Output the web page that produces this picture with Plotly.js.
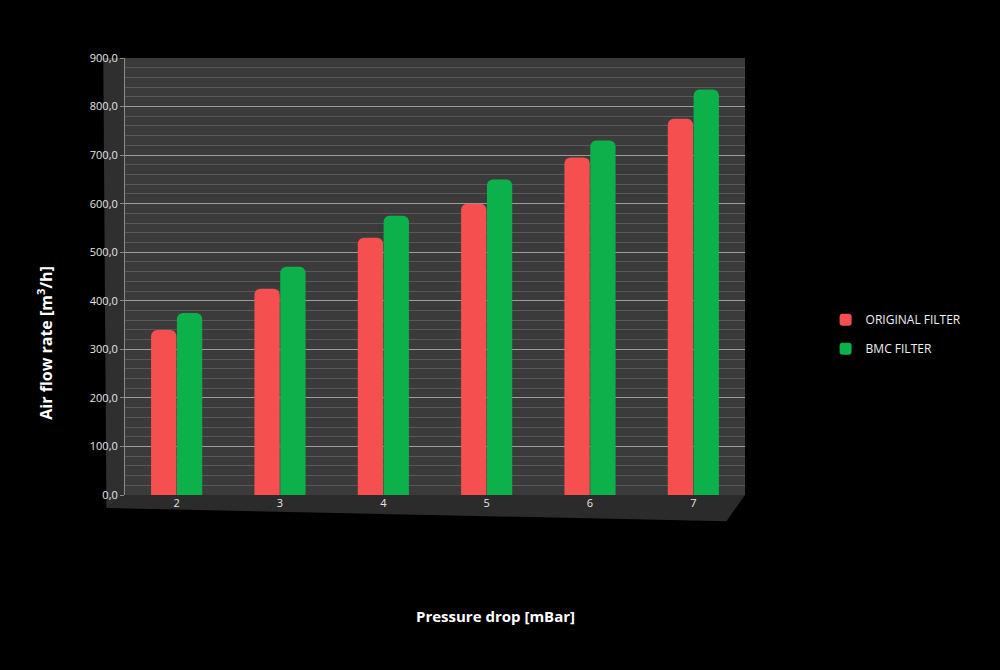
<!DOCTYPE html>
<html>
<head>
<meta charset="utf-8">
<script src="https://cdn.plot.ly/plotly-3.0.1.min.js"></script>
<style>
  html, body { margin: 0; padding: 0; background: #000; }
  #chart { width: 1000px; height: 670px; }
</style>
</head>
<body>
<div id="chart"></div>
<script>
// pressure drop categories (mBar)
let pressure = ["2", "3", "4", "5", "6", "7"];
// air flow rate m3/h
let originalFilter = [340, 425, 530, 600, 695, 775];
let bmcFilter = [375, 470, 575, 650, 730, 835];

let trace1 = {
    x: pressure,
    y: originalFilter,
    type: "bar",
    name: "ORIGINAL FILTER",
    legendgroup: "orig",
    marker: {color: "#f5504f", cornerradius: 6}
};

let trace2 = {
    x: pressure,
    y: bmcFilter,
    type: "bar",
    name: "BMC FILTER",
    legendgroup: "bmc",
    marker: {color: "#0db14b", cornerradius: 6}
};

let layout = {
    width: 1000,
    height: 670,
    paper_bgcolor: "#000000",
    plot_bgcolor: "#3b3b3b",
    separators: ",.",
    margin: {l: 125, r: 255, t: 58, b: 175},
    font: {family: "Open Sans, sans-serif", color: "#e6e6e6", size: 11},
    barmode: "group",
    bargap: 0.5,
    bargroupgap: 0.02,
    showlegend: true,
    legend: {
        x: 1.13, y: 0.368, yanchor: "middle",
        font: {size: 12, color: "#f0f0f0"},
        bgcolor: "rgba(0,0,0,0)",
        traceorder: "grouped",
        tracegroupgap: 10,
        itemwidth: 30
    },
    xaxis: {
        showgrid: false,
        zeroline: false,
        ticks: "",
        tickfont: {size: 11, color: "#e6e6e6"},
        showline: false
    },
    yaxis: {
        range: [0, 900],
        dtick: 100,
        tickformat: ".1f",
        gridcolor: "#9c9c9c",
        gridwidth: 1,
        minor: {dtick: 20, showgrid: true, gridcolor: "#585858", gridwidth: 1},
        zeroline: false,
        showline: true,
        linecolor: "#8a8a8a",
        ticks: "outside",
        ticklen: 4,
        tickcolor: "#8a8a8a",
        tickfont: {size: 11, color: "#e6e6e6"}
    },
    annotations: [
        {text: "<b>Air flow rate [m<sup>3</sup>/h]</b>", xref: "paper", yref: "paper",
         x: -0.152, y: 0.348, textangle: -90, showarrow: false,
         font: {size: 16, color: "#ffffff"}},
        {text: "<b>Pressure drop [mBar]</b>", xref: "paper", yref: "paper",
         x: 0.597, y: -0.305, showarrow: false,
         font: {size: 15, color: "#ffffff"}}
    ],
    shapes: [
        // floor under the bars
        {type: "path", xref: "paper", yref: "paper",
         path: "M 0 0 L 1 0 L 0.97 -0.06 L -0.03 -0.03 Z",
         fillcolor: "#2b2b2b", line: {width: 0}, layer: "below"},
        // left side wall
        {type: "path", xref: "paper", yref: "paper",
         path: "M 0 0 L 0 1 L -0.035 1 L -0.03 -0.03 Z",
         fillcolor: "#2f2f2f", line: {width: 0}, layer: "below"}
    ]
};

Plotly.newPlot("chart", [trace1, trace2], layout, {displayModeBar: false});
</script>
</body>
</html>
